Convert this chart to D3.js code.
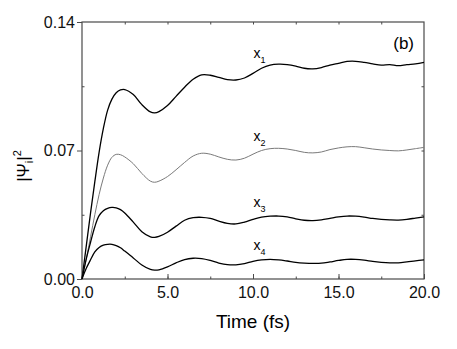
<!DOCTYPE html>
<html>
<head>
<meta charset="utf-8">
<script src="https://cdn.jsdelivr.net/npm/d3@7"></script>
<style>
  body { margin: 0; background: #fff; }
  svg { display: block; font-family: Arial, "Liberation Sans", sans-serif; }
</style>
</head>
<body>
<svg id="chart"></svg>
<script>
// time grid (fs)
const time = [0, 0.25, 0.5, 0.75, 1.0, 1.25, 1.5, 1.75, 2.0, 2.25, 2.5, 3.0, 3.5, 4.0, 4.25, 4.5,
  5.0, 5.5, 6.0, 6.5, 7.0, 7.5, 8.0, 8.5, 9.0, 9.5, 10.0, 10.5, 11.0, 11.5, 12.0, 12.5, 13.0,
  13.5, 14.0, 14.5, 15.0, 15.5, 16.0, 16.5, 17.0, 17.5, 18.0, 18.5, 19.0, 19.5, 20.0];

const x1 = [0, 0.018, 0.036, 0.053, 0.069, 0.082, 0.092, 0.098, 0.1015, 0.103, 0.1032, 0.1005, 0.0950,
  0.0910, 0.0905, 0.0912, 0.0945, 0.0995, 0.1045, 0.1088, 0.1112, 0.1110, 0.1098, 0.1086, 0.1084,
  0.1095, 0.1120, 0.1148, 0.1165, 0.1170, 0.1168, 0.1160, 0.1148, 0.1145, 0.1152, 0.1165, 0.1175,
  0.1185, 0.1186, 0.1180, 0.1172, 0.1165, 0.1168, 0.1162, 0.1168, 0.1172, 0.1180];

const x2 = [0, 0.011, 0.023, 0.035, 0.046, 0.055, 0.062, 0.0663, 0.0679, 0.0677, 0.0665, 0.0628, 0.0575,
  0.0533, 0.0527, 0.0533, 0.0558, 0.0595, 0.0635, 0.0670, 0.0685, 0.0680, 0.0665, 0.0652, 0.0648,
  0.0658, 0.0680, 0.0700, 0.0710, 0.0712, 0.0708, 0.0700, 0.0690, 0.0687, 0.0692, 0.0705, 0.0714,
  0.0720, 0.0721, 0.0715, 0.0708, 0.0703, 0.0700, 0.0698, 0.0703, 0.0710, 0.0717];

const x3 = [0, 0.011, 0.020, 0.0285, 0.0345, 0.0372, 0.0385, 0.0390, 0.0388, 0.0378, 0.0360, 0.0310, 0.0258,
  0.0230, 0.0227, 0.0232, 0.0255, 0.0288, 0.0320, 0.0334, 0.0336, 0.0330, 0.0315, 0.0303, 0.0300,
  0.0310, 0.0325, 0.0337, 0.0342, 0.0343, 0.0338, 0.0328, 0.0320, 0.0318, 0.0322, 0.0330, 0.0338,
  0.0343, 0.0342, 0.0337, 0.0330, 0.0325, 0.0322, 0.0321, 0.0325, 0.0332, 0.0339];

const x4 = [0, 0.0058, 0.0105, 0.0148, 0.0172, 0.0184, 0.0189, 0.0189, 0.0182, 0.0170, 0.0152, 0.0115, 0.0076,
  0.0052, 0.0048, 0.0050, 0.0066, 0.0088, 0.0106, 0.0113, 0.0111, 0.0101, 0.0087, 0.0078, 0.0077,
  0.0084, 0.0096, 0.0104, 0.0107, 0.0104, 0.0098, 0.0091, 0.0087, 0.0085, 0.0086, 0.0093, 0.0101,
  0.0107, 0.0107, 0.0103, 0.0096, 0.0091, 0.0088, 0.0088, 0.0093, 0.0099, 0.0104];

const seriesNames = ['1', '2', '3', '4'];
const seriesValues = [x1, x2, x3, x4];
const xTicks = [0, 5, 10, 15, 20];
const yTicks = [0, 0.07, 0.14];
const labelTime = 10.5;

// chart dimensions
const margin = { top: 22, right: 33, bottom: 70, left: 82 };
const width = 457 - margin.left - margin.right;
const height = 349 - margin.top - margin.bottom;
const axisColor = '#4a4a4a';

const root = d3.select('#chart')
  .attr('width', 457)
  .attr('height', 349);

const svg = root.append('g')
  .attr('transform', `translate(${margin.left}, ${margin.top})`);

const xScale = d3.scaleLinear().domain([0, 20]).range([0, width]);
const yScale = d3.scaleLinear().domain([0, 0.14]).range([height, 0]);

// minor ticks on all four sides, pointing inward
const minorX = d3.range(0, 20.01, 2.5).filter(d => d > 0 && d < 20);
const minorY = [0.035, 0.07, 0.105];

svg.append('g')
  .attr('transform', `translate(0, ${height})`)
  .call(d3.axisBottom(xScale).tickValues(minorX).tickSize(-2.5).tickFormat(''));
svg.append('g')
  .call(d3.axisTop(xScale).tickValues(minorX).tickSize(-2.5).tickFormat(''));
svg.append('g')
  .call(d3.axisLeft(yScale).tickValues([0.035, 0.105]).tickSize(-2.5).tickFormat(''));
svg.append('g')
  .attr('transform', `translate(${width}, 0)`)
  .call(d3.axisRight(yScale).tickValues(minorY).tickSize(-2.5).tickFormat(''));

// main axes
svg.append('g')
  .attr('transform', `translate(0, ${height})`)
  .call(d3.axisBottom(xScale).tickValues(xTicks).tickSize(-5).tickPadding(8)
    .tickFormat(d3.format('.1f')));

svg.append('g')
  .call(d3.axisLeft(yScale).tickValues(yTicks).tickSize(5).tickPadding(2)
    .tickFormat(d3.format('.2f')));

svg.selectAll('.domain').remove();
svg.selectAll('.tick line').attr('stroke', axisColor).attr('stroke-width', 1);
svg.selectAll('.tick text')
  .attr('fill', '#111')
  .style('font-size', '16px')
  .style('font-family', 'Arial, "Liberation Sans", sans-serif');

// frame
svg.append('rect')
  .attr('width', width)
  .attr('height', height)
  .attr('fill', 'none')
  .attr('stroke', axisColor)
  .attr('stroke-width', 1.2);

// curves
const line = d3.line()
  .x((d, i) => xScale(time[i]))
  .y(d => yScale(d))
  .curve(d3.curveCatmullRom.alpha(0.5));

svg.selectAll('.curve')
  .data(seriesValues)
  .enter()
  .append('path')
  .attr('class', 'curve')
  .attr('fill', 'none')
  .attr('stroke', (d, i) => i === 1 ? '#7a7a7a' : '#000')
  .attr('stroke-width', (d, i) => i === 1 ? 1 : 1.3)
  .attr('d', line);

// curve labels
const li = time.indexOf(labelTime);
seriesValues.forEach((vals, i) => {
  const t = svg.append('text')
    .attr('x', xScale(labelTime) - 2)
    .attr('y', yScale(vals[li]) - 10)
    .attr('text-anchor', 'middle')
    .style('font-size', '14px')
    .attr('fill', '#000');
  t.append('tspan').text('x');
  t.append('tspan').attr('dy', 5).style('font-size', '9px').text(seriesNames[i]);
});

// panel tag
svg.append('text')
  .attr('x', width - 10)
  .attr('y', 27)
  .attr('text-anchor', 'end')
  .style('font-size', '17px')
  .text('(b)');

// axis titles
root.append('text')
  .attr('x', margin.left + width / 2)
  .attr('y', 328)
  .attr('text-anchor', 'middle')
  .style('font-size', '19px')
  .text('Time (fs)');

const yl = root.append('text')
  .attr('transform', 'translate(29, 166) rotate(-90)')
  .attr('text-anchor', 'middle')
  .style('font-size', '17px');
yl.append('tspan').text('|Ψ');
yl.append('tspan').attr('dy', 4).style('font-size', '11px').text('i');
yl.append('tspan').attr('dy', -4).text('|');
yl.append('tspan').attr('dy', -8).style('font-size', '11px').text('2');
</script>
</body>
</html>
